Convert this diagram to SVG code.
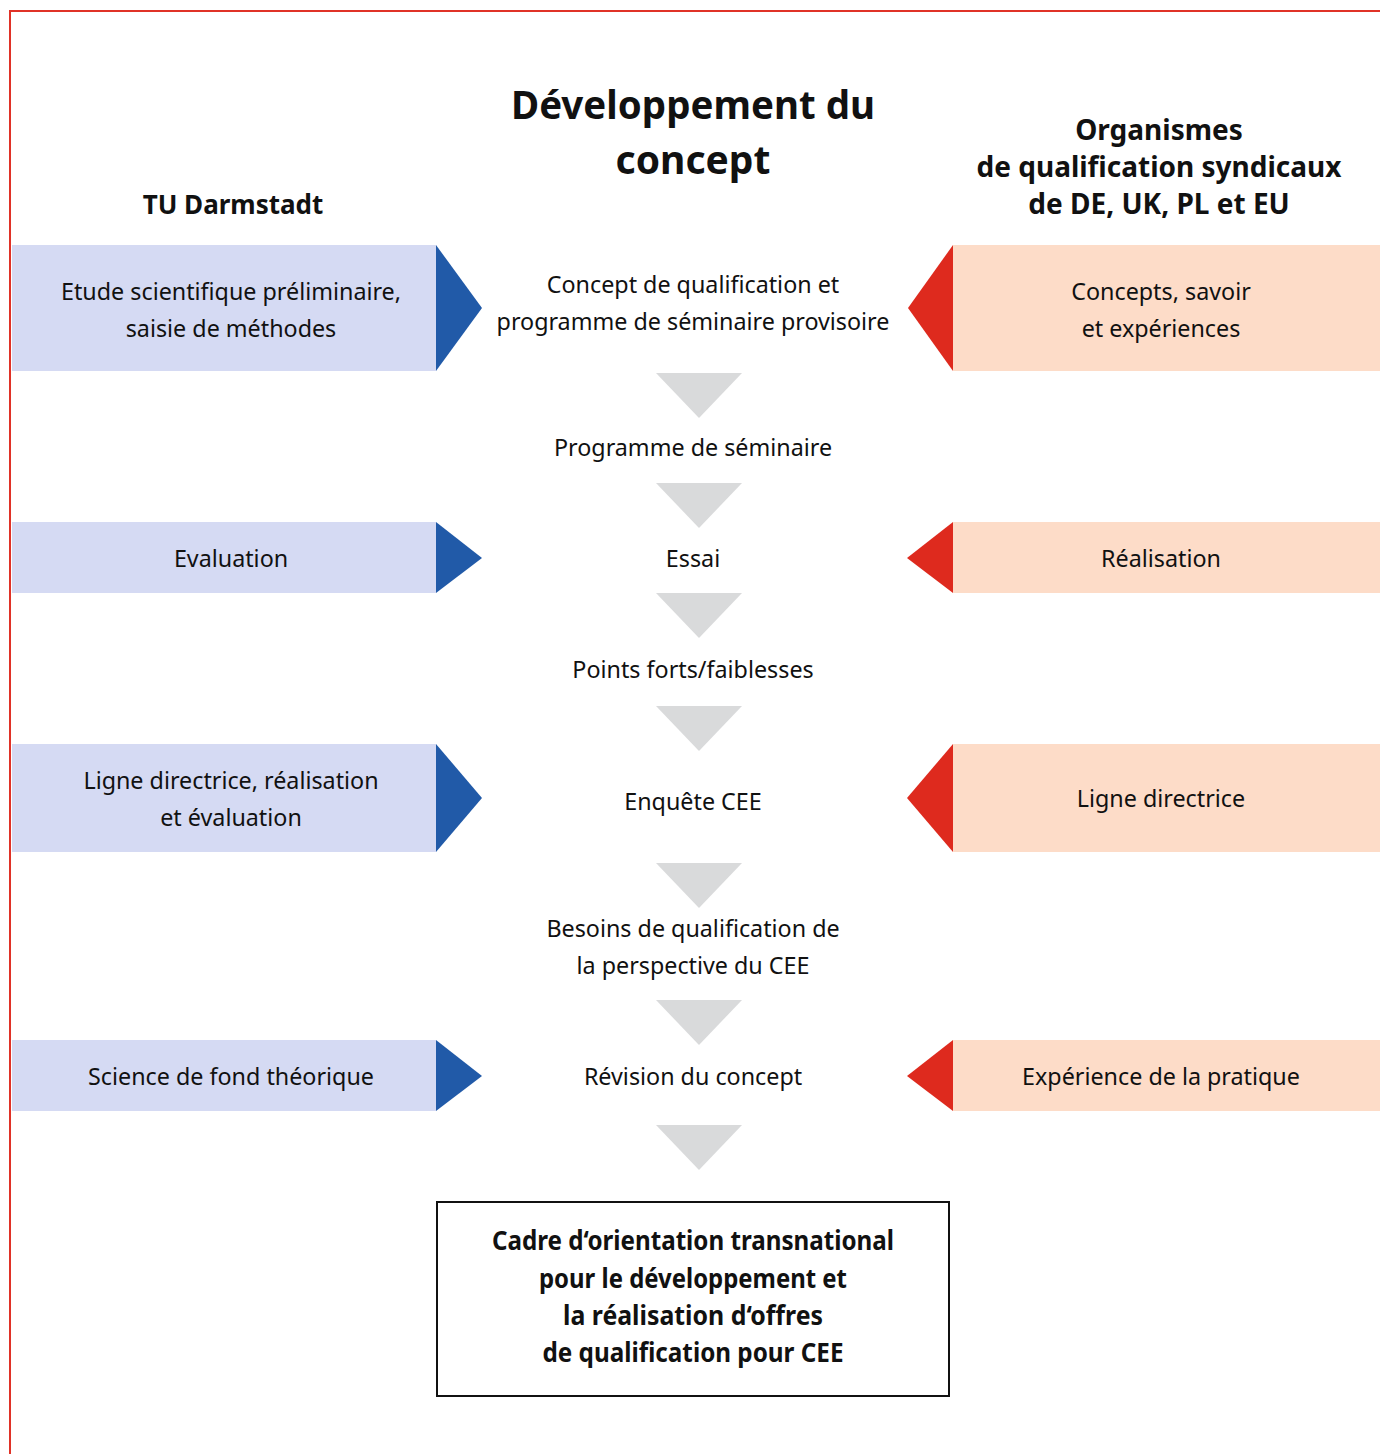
<svg xmlns="http://www.w3.org/2000/svg" width="1380" height="1454" viewBox="0 0 1380 1454">
<style>
.t{font-family:"Noto Sans","DejaVu Sans",sans-serif;font-size:23.3px;fill:#111;text-anchor:middle;font-stretch:condensed}
.h{font-family:"Noto Sans","DejaVu Sans",sans-serif;font-weight:bold;fill:#111;text-anchor:middle}
.b{font-family:"Noto Sans","DejaVu Sans",sans-serif;font-weight:bold;fill:#111;text-anchor:middle;font-size:27px}
.lb{fill:#d5daf3}
.la{fill:#215aa8}
.rb{fill:#fddcc8}
.ra{fill:#de2a1e}
.g{fill:#d9dadb}
</style>
<rect width="1380" height="1454" fill="#fff"/>
<path d="M10 1454 V11 H1380" fill="none" stroke="#e03227" stroke-width="2"/>
<g id="headers">
<text class="h" x="693" y="119" font-size="39" textLength="364" lengthAdjust="spacingAndGlyphs">Développement du</text>
<text class="h" x="693" y="174" font-size="39">concept</text>
<text class="h" x="233" y="214" font-size="26">TU Darmstadt</text>
<text class="h" x="1159" y="140" font-size="28">Organismes</text>
<text class="h" x="1159" y="177" font-size="28">de qualification syndicaux</text>
<text class="h" x="1159" y="214" font-size="28">de DE, UK, PL et EU</text>
</g>
<g id="left1"><rect class="lb" x="12" y="245" width="424" height="126"/><polygon class="la" points="436,245 482,308 436,371"/>
<text class="t" x="231" y="300">Etude scientifique préliminaire,</text><text class="t" x="231" y="337">saisie de méthodes</text></g>
<g id="left2"><rect class="lb" x="12" y="522" width="424" height="71"/><polygon class="la" points="436,522 482,558 436,593"/>
<text class="t" x="231" y="567">Evaluation</text></g>
<g id="left3"><rect class="lb" x="12" y="744" width="424" height="108"/><polygon class="la" points="436,744 482,798 436,852"/>
<text class="t" x="231" y="789">Ligne directrice, réalisation</text><text class="t" x="231" y="826">et évaluation</text></g>
<g id="left4"><rect class="lb" x="12" y="1040" width="424" height="71"/><polygon class="la" points="436,1040 482,1076 436,1111"/>
<text class="t" x="231" y="1085">Science de fond théorique</text></g>
<g id="right1"><rect class="rb" x="953" y="245" width="427" height="126"/><polygon class="ra" points="953,245 908,308 953,371"/>
<text class="t" x="1161" y="300">Concepts, savoir</text><text class="t" x="1161" y="337">et expériences</text></g>
<g id="right2"><rect class="rb" x="953" y="522" width="427" height="71"/><polygon class="ra" points="953,522 907,558 953,593"/>
<text class="t" x="1161" y="567">Réalisation</text></g>
<g id="right3"><rect class="rb" x="953" y="744" width="427" height="108"/><polygon class="ra" points="953,744 907,798 953,852"/>
<text class="t" x="1161" y="807">Ligne directrice</text></g>
<g id="right4"><rect class="rb" x="953" y="1040" width="427" height="71"/><polygon class="ra" points="953,1040 907,1076 953,1111"/>
<text class="t" x="1161" y="1085">Expérience de la pratique</text></g>
<g id="c1"><text class="t" x="693" y="293">Concept de qualification et</text><text class="t" x="693" y="330">programme de séminaire provisoire</text></g>
<g id="c2"><text class="t" x="693" y="456">Programme de séminaire</text></g>
<g id="c3"><text class="t" x="693" y="567">Essai</text></g>
<g id="c4"><text class="t" x="693" y="678">Points forts/faiblesses</text></g>
<g id="c5"><text class="t" x="693" y="810">Enquête CEE</text></g>
<g id="c6"><text class="t" x="693" y="937">Besoins de qualification de</text><text class="t" x="693" y="974">la perspective du CEE</text></g>
<g id="c7"><text class="t" x="693" y="1085">Révision du concept</text></g>
<g id="result"><rect x="437" y="1202" width="512" height="194" fill="#fff" stroke="#111" stroke-width="2"/>
<text class="b" x="693" y="1250" textLength="402" lengthAdjust="spacingAndGlyphs">Cadre d‘orientation transnational</text>
<text class="b" x="693" y="1288" textLength="308" lengthAdjust="spacingAndGlyphs">pour le développement et</text>
<text class="b" x="693" y="1325" textLength="260" lengthAdjust="spacingAndGlyphs">la réalisation d‘offres</text>
<text class="b" x="693" y="1362" textLength="301" lengthAdjust="spacingAndGlyphs">de qualification pour CEE</text></g>
<g id="connectors">
<polygon class="g" points="656,373 742,373 699,418"/>
<polygon class="g" points="656,483 742,483 699,528"/>
<polygon class="g" points="656,593 742,593 699,638"/>
<polygon class="g" points="656,706 742,706 699,751"/>
<polygon class="g" points="656,863 742,863 699,908"/>
<polygon class="g" points="656,1000 742,1000 699,1045"/>
<polygon class="g" points="656,1125 742,1125 699,1170"/>
</g>
</svg>
